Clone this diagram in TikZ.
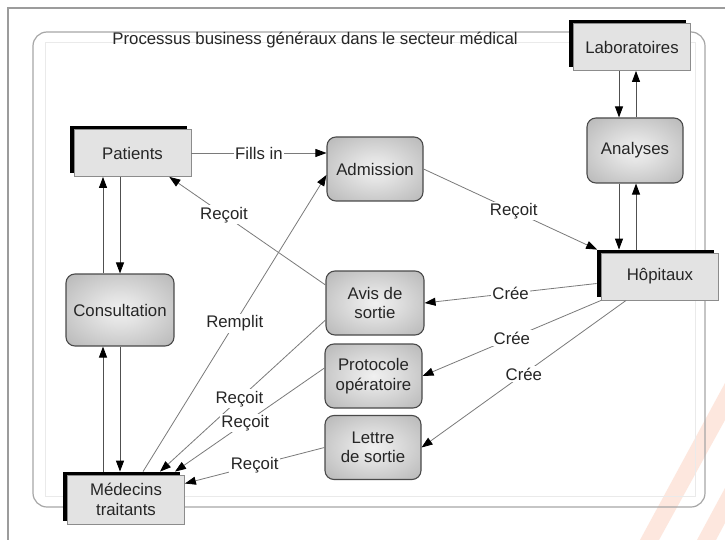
\documentclass[tikz,border=0pt]{standalone}
\usepackage{fontspec}
\setmainfont{Liberation Sans}
\usetikzlibrary{arrows.meta,shadows,calc}
\definecolor{txt}{HTML}{262626}
\definecolor{boxfill}{HTML}{E3E3E3}
\definecolor{entborder}{HTML}{8C8C8C}
\definecolor{procborder}{HTML}{4A4A4A}
\definecolor{procin}{HTML}{F0F0F0}
\definecolor{procmid}{HTML}{E2E2E2}
\definecolor{procmid2}{HTML}{B8B8B8}
\definecolor{procedge}{HTML}{969696}
\definecolor{procout}{HTML}{787878}
\definecolor{linkgray}{HTML}{7A7A7A}
\definecolor{vgray}{HTML}{505050}
\definecolor{pagegray}{HTML}{9C9C9C}
\definecolor{framegray}{HTML}{A6A6A6}
\definecolor{innergray}{HTML}{EAEAEA}
\definecolor{wm}{HTML}{FDE7DE}
\pgfdeclareradialshading{procshade}{\pgfpoint{0bp}{0bp}}{color(0bp)=(procin); color(10bp)=(procmid); color(35bp)=(procmid2); color(50bp)=(procedge); color(72bp)=(procout)}
\begin{document}
\begin{tikzpicture}[x=1pt,y=-1pt,
  every node/.style={font=\fontsize{16.8}{19.5}\selectfont, text=txt},
  entity/.style={draw=entborder, line width=0.8pt, fill=boxfill, minimum width=117pt, minimum height=47pt, inner sep=0pt, align=center, general shadow={fill=black, shadow xshift=-4.5pt, shadow yshift=3pt}},
  proc/.style={draw=procborder, line width=1.1pt, rounded corners=9pt, shading=procshade, minimum width=96pt, minimum height=64pt, inner sep=0pt, align=center},
  link/.style={draw=linkgray, line width=0.8pt, -{Triangle[length=11pt,width=8pt,color=black]}},
  vlink/.style={draw=vgray, line width=0.9pt, -{Triangle[length=11pt,width=8pt,color=black]}},
  lbl/.style={fill=white, inner sep=1.5pt}
]
\useasboundingbox (0,0) rectangle (725,540);
\fill[white] (0,0) rectangle (725,540);
% watermark stripes
\fill[wm] (640,540) -- (659,540) -- (725,420) -- (725,383) -- cycle;
\fill[wm] (697,540) -- (716,540) -- (725,523) -- (725,488) -- cycle;
% page frame
\draw[pagegray, line width=2pt] (8,540) -- (8,8) -- (725,8);
% diagram frame
\draw[innergray, line width=1pt] (45,43) rectangle (695,496);
\draw[framegray, line width=1.2pt, rounded corners=14pt] (33,32) rectangle (705,507);
\node (title) at (315,40) {Processus business généraux dans le secteur médical};

% entities
\node[entity] (lab) at (632,47) {Laboratoires};
\node[entity] (pat) at (132.5,153) {Patients};
\node[entity] (hop) at (660,276.5) {Hôpitaux};
\node[entity, minimum height=49pt] (med) at (126,499.5) {Médecins\\traitants};

% processes
\node[proc, minimum height=65pt] (ana) at (635,150.5) {Analyses};
\node[proc] (adm) at (375,169) {Admission};
\node[proc, minimum width=108pt, minimum height=72pt] (cons) at (120,310) {Consultation};
\node[proc, minimum width=98pt] (avis) at (375,303) {Avis de\\sortie};
\node[proc, minimum width=97pt] (proto) at (373.5,376) {Protocole\\opératoire};
\node[proc] (let) at (373,447.5) {Lettre\\de sortie};

% helper coordinates
\coordinate (ax1) at ($(ana.north)+(-16,0)$);
\coordinate (ax2) at ($(ana.north)+(1,0)$);
\coordinate (hoptop) at ($(hop.north)+(0,-3)$);
\coordinate (cx1) at ($(cons.north)+(-17,0)$);
\coordinate (medtop) at ($(med.north)+(0,-3)$);

% vertical links
\draw[vlink] (ax1 |- lab.south) -- (ax1 |- ana.north);
\draw[vlink] (ax2 |- ana.north) -- (ax2 |- lab.south);
\draw[vlink] (ax1 |- ana.south) -- (ax1 |- hoptop);
\draw[vlink] (ax2 |- hoptop) -- (ax2 |- ana.south);
\draw[vlink] (cons.north |- pat.south) -- (cons.north);
\draw[vlink] (cx1) -- (cx1 |- pat.south);
\draw[vlink] (cons.south) -- (cons.south |- medtop);
\draw[vlink] (cx1 |- medtop) -- (cx1 |- cons.south);

% labelled links
\draw[link] (pat.east) -- node[lbl]{Fills in} (adm.west |- pat.east);
\draw[link] (avis.160) -- node[lbl,pos=0.65]{Reçoit} (pat.-33);
\draw[link] ($(med.north)+(17,-3)$) -- node[lbl]{Remplit} (adm.187);
\draw[link] (adm.east) -- node[lbl,pos=0.52]{Reçoit} ($(hop.north west)+(-4,-3)$);
\draw[link] ($(hop.west)+(-4.5,7)$) -- node[lbl]{Crée} (avis.east);
\draw[link] (hop.south west) -- node[lbl]{Crée} (proto.east);
\draw[link] ($(hop.south west)+(25,0)$) -- node[lbl]{Crée} (let.east);
\draw[link] (avis.199) -- node[lbl,pos=0.52]{Reçoit} ($(med.north)+(34,-3)$);
\draw[link] ($(proto.west)+(0,-8)$) -- node[lbl,pos=0.53]{Reçoit} ($(med.north)+(49,-3)$);
\draw[link] (let.west) -- node[lbl]{Reçoit} ($(med.east)+(0,-16)$);
\end{tikzpicture}
\end{document}
